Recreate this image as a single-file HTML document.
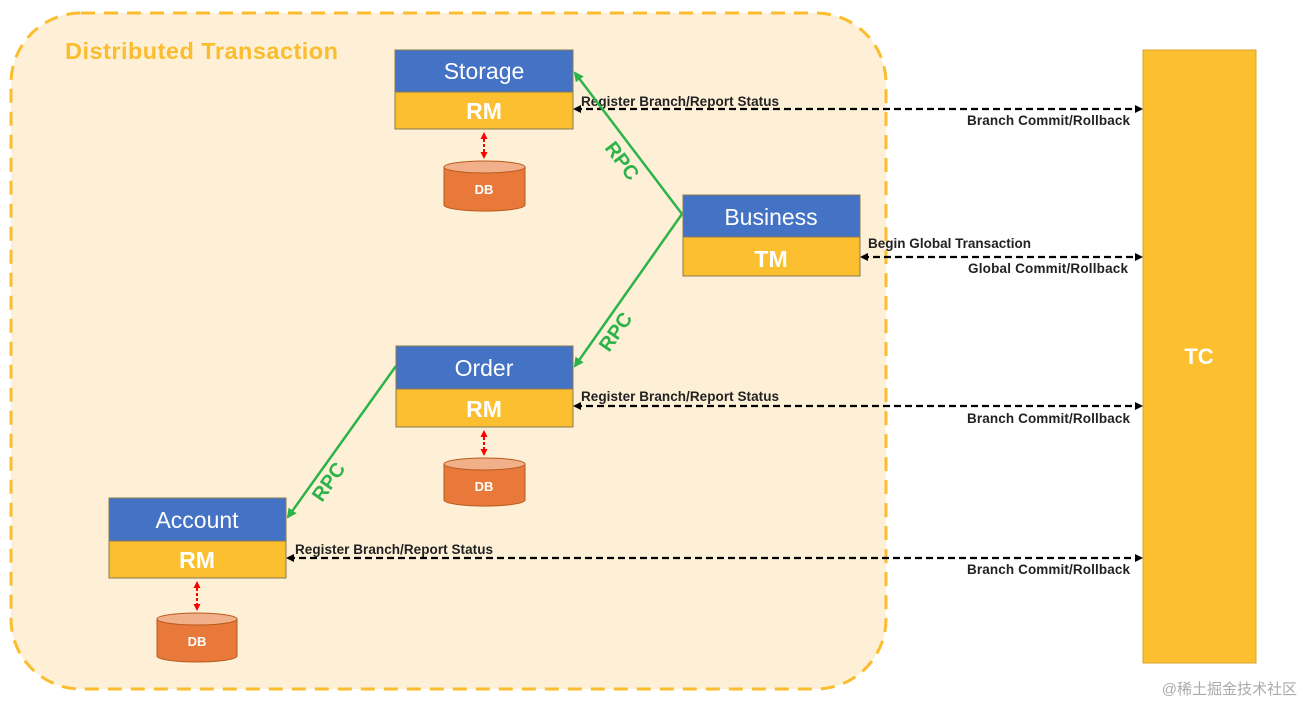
<!DOCTYPE html>
<html><head><meta charset="utf-8"><style>
html,body{margin:0;padding:0;background:#fff;}
svg{display:block;font-family:"Liberation Sans",sans-serif;}
</style></head><body>
<svg width="1303" height="703" viewBox="0 0 1303 703">
<defs>
<marker id="ab" markerWidth="8" markerHeight="8" refX="6" refY="4" orient="auto-start-reverse" markerUnits="userSpaceOnUse"><path d="M0,0 L8,4 L0,8 z" fill="#000"/></marker>
<marker id="ag" markerWidth="10" markerHeight="10" refX="8" refY="5" orient="auto" markerUnits="userSpaceOnUse"><path d="M0,0 L10,5 L0,10 z" fill="#2db34a"/></marker>
<marker id="ar" markerWidth="7" markerHeight="7" refX="5" refY="3.5" orient="auto-start-reverse" markerUnits="userSpaceOnUse"><path d="M0,0 L7,3.5 L0,7 z" fill="#f00"/></marker>
</defs>
<rect x="11" y="13" width="875" height="676" rx="70" fill="#fdf0d6" stroke="#fbbd2e" stroke-width="3" stroke-dasharray="14,9"/>
<text x="65" y="59" font-size="23.5" font-weight="bold" fill="#fbbd2e" textLength="273">Distributed Transaction</text>

<rect x="1143" y="50" width="113" height="613" fill="#fbbf2f" stroke="#d9a52a"/>
<text x="1199" y="364" font-size="22" font-weight="bold" fill="#fff" text-anchor="middle">TC</text>

<g stroke="#000" stroke-width="2.2" stroke-dasharray="7,4" fill="none">
<line x1="575" y1="109" x2="1141" y2="109" marker-start="url(#ab)" marker-end="url(#ab)"/>
<line x1="862" y1="257" x2="1141" y2="257" marker-start="url(#ab)" marker-end="url(#ab)"/>
<line x1="575" y1="406" x2="1141" y2="406" marker-start="url(#ab)" marker-end="url(#ab)"/>
<line x1="288" y1="558" x2="1141" y2="558" marker-start="url(#ab)" marker-end="url(#ab)"/>
</g>
<g font-size="13.5" font-weight="bold" fill="#222">
<text x="581" y="106" textLength="198">Register Branch/Report Status</text>
<text x="967" y="125" textLength="163">Branch Commit/Rollback</text>
<text x="868" y="248" textLength="163">Begin Global Transaction</text>
<text x="968" y="273" textLength="160">Global Commit/Rollback</text>
<text x="581" y="401" textLength="198">Register Branch/Report Status</text>
<text x="967" y="423" textLength="163">Branch Commit/Rollback</text>
<text x="295" y="554" textLength="198">Register Branch/Report Status</text>
<text x="967" y="574" textLength="163">Branch Commit/Rollback</text>
</g>

<g stroke="#2db34a" stroke-width="2.5" fill="none">
<line x1="682" y1="214" x2="575" y2="73" marker-end="url(#ag)"/>
<line x1="682" y1="214" x2="575" y2="366" marker-end="url(#ag)"/>
<line x1="396" y1="366" x2="288" y2="517" marker-end="url(#ag)"/>
</g>
<g font-size="20" font-weight="bold" fill="#2db34a">
<text transform="translate(604,148) rotate(53)">RPC</text>
<text transform="translate(609,353) rotate(-55)">RPC</text>
<text transform="translate(322,503) rotate(-55)">RPC</text>
</g>

<g stroke="#8a7a50" stroke-width="1">
<rect x="395" y="50" width="178" height="42" fill="#4472c4"/>
<rect x="395" y="92" width="178" height="37" fill="#fbbf2f"/>
<rect x="683" y="195" width="177" height="42" fill="#4472c4"/>
<rect x="683" y="237" width="177" height="39" fill="#fbbf2f"/>
<rect x="396" y="346" width="177" height="43" fill="#4472c4"/>
<rect x="396" y="389" width="177" height="38" fill="#fbbf2f"/>
<rect x="109" y="498" width="177" height="43" fill="#4472c4"/>
<rect x="109" y="541" width="177" height="37" fill="#fbbf2f"/>
</g>
<g fill="#fff" font-size="23" text-anchor="middle">
<text x="484" y="79">Storage</text>
<text x="771" y="225">Business</text>
<text x="484" y="376">Order</text>
<text x="197" y="528">Account</text>
</g>
<g fill="#fff" font-size="23" font-weight="bold" text-anchor="middle">
<text x="484" y="119">RM</text>
<text x="771" y="267">TM</text>
<text x="484" y="417">RM</text>
<text x="197" y="568">RM</text>
</g>

<g stroke="#f00" stroke-width="2" stroke-dasharray="3,2">
<line x1="484" y1="134" x2="484" y2="157" marker-start="url(#ar)" marker-end="url(#ar)"/>
<line x1="484" y1="432" x2="484" y2="454" marker-start="url(#ar)" marker-end="url(#ar)"/>
<line x1="197" y1="583" x2="197" y2="609" marker-start="url(#ar)" marker-end="url(#ar)"/>
</g>

<g stroke="#b85a1c" stroke-width="1">
<path d="M444,167 v38 a40,6 0 0 0 81,0 v-38 z" fill="#e8793a"/>
<ellipse cx="484.5" cy="167" rx="40.5" ry="6" fill="#f2b08a"/>
<path d="M444,464 v36 a40,6 0 0 0 81,0 v-36 z" fill="#e8793a"/>
<ellipse cx="484.5" cy="464" rx="40.5" ry="6" fill="#f2b08a"/>
<path d="M157,619 v37 a40,6 0 0 0 80,0 v-37 z" fill="#e8793a"/>
<ellipse cx="197" cy="619" rx="40" ry="6" fill="#f2b08a"/>
</g>
<g fill="#fff" font-size="13" font-weight="bold" text-anchor="middle">
<text x="484" y="194">DB</text>
<text x="484" y="491">DB</text>
<text x="197" y="646">DB</text>
</g>

<text x="1297" y="694" font-size="15" fill="#aaa" text-anchor="end" font-family="'Liberation Sans','Noto Sans CJK SC',sans-serif">@稀土掘金技术社区</text>
</svg>
</body></html>
